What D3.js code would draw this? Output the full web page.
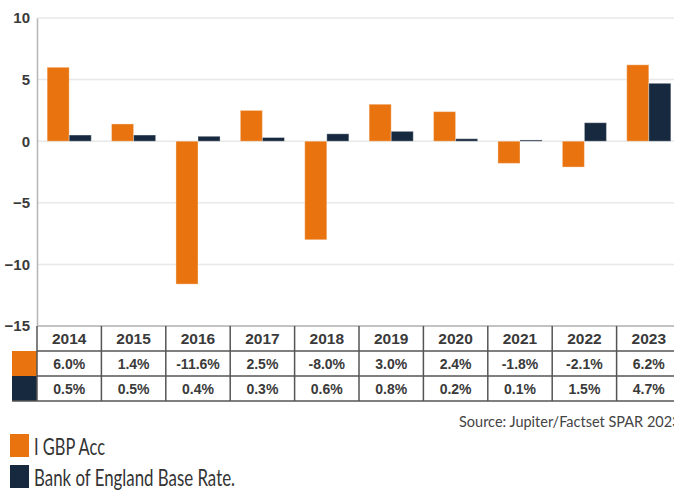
<!DOCTYPE html>
<html>
<head>
<meta charset="utf-8">
<script src="https://cdn.jsdelivr.net/npm/d3@7"></script>
<style>
  html, body { margin: 0; padding: 0; background: #fff; overflow: hidden; }
  svg { display: block; }
</style>
</head>
<body>
<div id="chart"></div>
<script>
// values
const years = ['2014', '2015', '2016', '2017', '2018', '2019', '2020', '2021', '2022', '2023'];
const fundReturns = [6.0, 1.4, -11.6, 2.5, -8.0, 3.0, 2.4, -1.8, -2.1, 6.2];
const baseRate = [0.5, 0.5, 0.4, 0.3, 0.6, 0.8, 0.2, 0.1, 1.5, 4.7];
const seriesNames = ['I GBP Acc', 'Bank of England Base Rate.'];
const seriesColors = ['#e8730f', '#16293e'];
const yTicks = [10, 5, 0, -5, -10, -15];

function drawChart() {
  const width = 674;
  const height = 491;
  const left = 37;
  const colWidth = 64.4;
  const right = left + colWidth * years.length;
  const top = 18;
  const plotBottom = 326;
  const rowH = 25;

  d3.select('#chart').select('svg').remove();
  const svg = d3
    .select('#chart')
    .append('svg')
    .attr('width', width)
    .attr('height', height);

  const y = d3.scaleLinear().domain([-15, 10]).range([plotBottom, top]);
  const x0 = d3.scaleBand().domain(years).range([left, right]).padding(0);
  const x1 = d3
    .scaleBand()
    .domain([0, 1])
    .range([0, x0.bandwidth()])
    .paddingInner(0)
    .paddingOuter(0.46);

  // gridlines
  svg
    .append('g')
    .selectAll('line')
    .data(yTicks)
    .enter()
    .append('line')
    .attr('x1', left)
    .attr('x2', right)
    .attr('y1', (d) => y(d))
    .attr('y2', (d) => y(d))
    .attr('stroke', '#e8e8e8')
    .attr('stroke-width', 1.5);

  // y axis
  const yAxis = svg
    .append('g')
    .attr('transform', `translate(${left},0)`)
    .call(d3.axisLeft(y).tickValues(yTicks).tickSize(0).tickPadding(7));
  yAxis.select('.domain').attr('stroke', '#b5b5b5').attr('stroke-width', 1.5);
  yAxis
    .selectAll('text')
    .attr('font-family', '"Liberation Sans", Arial, sans-serif')
    .attr('font-weight', 'bold')
    .attr('font-size', '15px')
    .attr('fill', '#3a3a3a');

  // bars
  const series = [fundReturns, baseRate];
  series.forEach((vals, si) => {
    svg
      .append('g')
      .selectAll('rect')
      .data(vals)
      .enter()
      .append('rect')
      .attr('x', (_d, i) => x0(years[i]) + x1(si))
      .attr('width', x1.bandwidth())
      .attr('y', (d) => y(Math.max(0, d)))
      .attr('height', (d) => Math.abs(y(d) - y(0)))
      .attr('fill', seriesColors[si])
      .attr('stroke', 'rgba(255,255,255,0.35)')
      .attr('stroke-width', 1);
  });

  // data table
  const table = svg.append('g');
  const font = '"Liberation Sans", Arial, sans-serif';

  // legend swatches in the table
  series.forEach((_v, si) => {
    table
      .append('rect')
      .attr('x', 12)
      .attr('y', plotBottom + rowH * (si + 1))
      .attr('width', left - 12)
      .attr('height', rowH)
      .attr('fill', seriesColors[si]);
  });

  table
    .append('line')
    .attr('x1', left).attr('x2', right)
    .attr('y1', plotBottom).attr('y2', plotBottom)
    .attr('stroke', '#b5b5b5').attr('stroke-width', 1.5);
  [1, 2].forEach((r) => {
    table
      .append('line')
      .attr('x1', left).attr('x2', right)
      .attr('y1', plotBottom + rowH * r).attr('y2', plotBottom + rowH * r)
      .attr('stroke', '#555').attr('stroke-width', 1.5);
  });
  table
    .append('line')
    .attr('x1', 12).attr('x2', right)
    .attr('y1', plotBottom + rowH * 3).attr('y2', plotBottom + rowH * 3)
    .attr('stroke', '#555').attr('stroke-width', 1.5);

  table
    .selectAll('line.col')
    .data(years)
    .enter()
    .append('line')
    .attr('class', 'col')
    .attr('x1', (d) => x0(d) + x0.bandwidth())
    .attr('x2', (d) => x0(d) + x0.bandwidth())
    .attr('y1', plotBottom)
    .attr('y2', plotBottom + rowH * 3)
    .attr('stroke', '#555')
    .attr('stroke-width', 1.5);
  table
    .append('line')
    .attr('x1', left).attr('x2', left)
    .attr('y1', plotBottom).attr('y2', plotBottom + rowH * 3)
    .attr('stroke', '#555').attr('stroke-width', 1.5);

  table
    .selectAll('text.year')
    .data(years)
    .enter()
    .append('text')
    .attr('x', (d) => x0(d) + x0.bandwidth() / 2)
    .attr('y', plotBottom + rowH / 2)
    .attr('dy', '0.36em')
    .attr('text-anchor', 'middle')
    .attr('font-family', font)
    .attr('font-weight', 'bold')
    .attr('font-size', '15.5px')
    .attr('fill', '#3a3a3a')
    .text((d) => d);

  series.forEach((vals, si) => {
    table
      .append('g')
      .selectAll('text')
      .data(vals)
      .enter()
      .append('text')
      .attr('x', (_d, i) => x0(years[i]) + x0.bandwidth() / 2)
      .attr('y', plotBottom + rowH * (si + 1) + rowH / 2)
      .attr('dy', '0.36em')
      .attr('text-anchor', 'middle')
      .attr('font-family', font)
      .attr('font-weight', 'bold')
      .attr('font-size', '14px')
      .attr('fill', '#3a3a3a')
      .text((d) => d.toFixed(1) + '%');
  });

  // source note (runs off the right edge, as in the original)
  svg
    .append('text')
    .attr('x', 459)
    .attr('y', 427)
    .attr('font-family', 'Lato, "Open Sans", sans-serif')
    .attr('font-size', '14.5px')
    .attr('fill', '#444')
    .text('Source: Jupiter/Factset SPAR 2023');

  // legend
  const legend = svg.append('g');
  const legendTextWidths = [71, 201];
  seriesNames.forEach((name, si) => {
    const ly = 434 + si * 31;
    legend
      .append('rect')
      .attr('x', 10)
      .attr('y', ly)
      .attr('width', 19)
      .attr('height', 23)
      .attr('fill', seriesColors[si]);
    legend
      .append('text')
      .attr('x', 34)
      .attr('y', ly + 21)
      .attr('font-family', 'Lato, "Open Sans", sans-serif')
      .attr('font-size', '23px')
      .attr('fill', '#333')
      .attr('textLength', legendTextWidths[si])
      .attr('lengthAdjust', 'spacingAndGlyphs')
      .text(name);
  });
}

document.addEventListener('DOMContentLoaded', drawChart);
</script>
</body>
</html>
